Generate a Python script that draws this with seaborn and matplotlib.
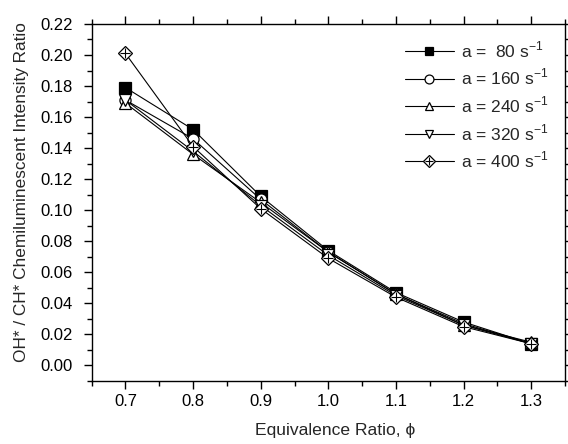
import matplotlib
matplotlib.use("Agg")
import matplotlib.pyplot as plt
import seaborn as sns
import pandas as pd
from matplotlib.ticker import MultipleLocator

phi = [0.7, 0.8, 0.9, 1.0, 1.1, 1.2, 1.3]
a80 = [0.179, 0.152, 0.109, 0.074, 0.047, 0.028, 0.014]
a160 = [0.171, 0.146, 0.107, 0.073, 0.046, 0.027, 0.014]
a240 = [0.169, 0.136, 0.105, 0.073, 0.046, 0.026, 0.015]
a320 = [0.171, 0.138, 0.103, 0.071, 0.045, 0.026, 0.014]
a400 = [0.201, 0.141, 0.101, 0.069, 0.044, 0.025, 0.014]
labels = ["a =  80 s$^{-1}$", "a = 160 s$^{-1}$", "a = 240 s$^{-1}$",
          "a = 320 s$^{-1}$", "a = 400 s$^{-1}$"]
series = [a80, a160, a240, a320, a400]
markers = ["s", "o", "^", "v", "D"]
faces = ["black", "white", "white", "white", "white"]
xticklabels = ["0.7", "0.8", "0.9", "1.0", "1.1", "1.2", "1.3"]
yticks = [0.0, 0.02, 0.04, 0.06, 0.08, 0.10, 0.12, 0.14, 0.16, 0.18, 0.20, 0.22]
yticklabels = ["0.00", "0.02", "0.04", "0.06", "0.08", "0.10", "0.12",
               "0.14", "0.16", "0.18", "0.20", "0.22"]

sns.set_style("ticks")
plt.rcParams['font.family'] = ['Liberation Sans', 'DejaVu Sans']
plt.rcParams['mathtext.fontset'] = 'custom'
plt.rcParams['mathtext.rm'] = 'Liberation Sans'

fig = plt.figure(figsize=(5.68, 4.44), dpi=100)
ax = fig.add_axes([0.1614, 0.1419, 0.8333, 0.8041])

rows = []
for lab, vals in zip(labels, series):
    for x, y in zip(phi, vals):
        rows.append({"phi": x, "ratio": y, "series": lab})
df = pd.DataFrame(rows)

for lab, m, fc in zip(labels, markers, faces):
    sub = df[df["series"] == lab]
    ms = 7.5 if m == "D" else 8
    sns.lineplot(data=sub, x="phi", y="ratio", ax=ax, color="black", lw=0.8,
                 marker=m, markersize=ms, markerfacecolor=fc, markeredgecolor="black",
                 markeredgewidth=0.9, label=lab, zorder=3)

# cross inside diamonds
sub = df[df["series"] == labels[4]]
plus_line, = ax.plot(sub["phi"], sub["ratio"], ls="none", marker="+", markersize=7.5,
                     color="black", markeredgewidth=0.8, zorder=4)

ax.set_xlim(0.65, 1.35)
ax.set_ylim(-0.01, 0.22)
ax.set_xticks(phi)
ax.set_xticklabels(xticklabels)
ax.set_yticks(yticks)
ax.set_yticklabels(yticklabels)
ax.xaxis.set_minor_locator(MultipleLocator(0.05))
ax.yaxis.set_minor_locator(MultipleLocator(0.01))
ax.tick_params(which="both", direction="out", top=True, right=True,
               labelsize=12, width=1.0, colors="black")
ax.tick_params(axis="x", which="major", pad=4)
ax.tick_params(axis="y", which="major", pad=8)
ax.tick_params(which="major", length=5.5)
ax.tick_params(which="minor", length=3.5)
for s in ax.spines.values():
    s.set_visible(True)
    s.set_linewidth(1.0)
    s.set_color("black")

ax.set_xlabel("Equivalence Ratio, \u03d5", fontsize=12.6)
ax.xaxis.set_label_coords(0.515, -0.117)
ax.set_ylabel("OH* / CH* Chemiluminescent Intensity Ratio", fontsize=12.4)
ax.yaxis.set_label_coords(-0.132, 0.53)

handles, labs = ax.get_legend_handles_labels()
handles = list(handles[:5])
handles[4] = (handles[4], plus_line)
leg = ax.legend(handles, labs[:5], loc="upper right", frameon=False,
                fontsize=12.5, handlelength=2.8, labelspacing=0.4, markerscale=0.8,
                handletextpad=0.4, borderaxespad=0.3, bbox_to_anchor=(0.99, 0.99))

fig.savefig("out.png", dpi=100)
